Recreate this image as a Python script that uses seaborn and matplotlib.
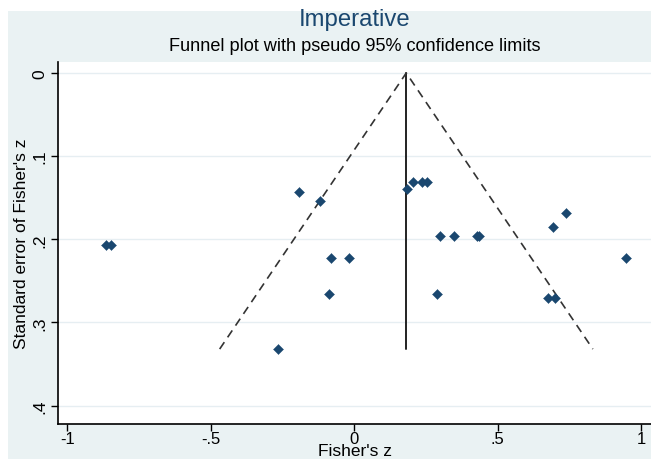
import matplotlib
matplotlib.use("Agg")
import matplotlib.pyplot as plt
import seaborn as sns
import pandas as pd
from matplotlib.patches import Rectangle

# ---- data ----
fisher_z = [-0.866, -0.847, -0.192, -0.118, -0.081, -0.018, -0.088, -0.267,
            0.183, 0.204, 0.235, 0.254, 0.300, 0.349, 0.428, 0.435, 0.289,
            0.692, 0.738, 0.948, 0.676, 0.700]
se_z = [0.207, 0.207, 0.1435, 0.154, 0.222, 0.222, 0.266, 0.332,
        0.1395, 0.1315, 0.1315, 0.1315, 0.1957, 0.1957, 0.1957, 0.1957, 0.266,
        0.1848, 0.1687, 0.2225, 0.2705, 0.2705]
pooled_z = 0.1815
x_ticks = [-1, -0.5, 0, 0.5, 1]
x_ticklabels = ["-1", "-.5", "0", ".5", "1"]
y_ticks = [0, 0.1, 0.2, 0.3, 0.4]
y_ticklabels = ["0", ".1", ".2", ".3", ".4"]
title = "Imperative"
subtitle = "Funnel plot with pseudo 95% confidence limits"
xlabel = "Fisher's z"
ylabel = "Standard error of Fisher's z"

df = pd.DataFrame({"z": fisher_z, "se": se_z})

sns.set_theme(style="white")
plt.rcParams["font.family"] = ["Liberation Sans", "DejaVu Sans"]

W, H = 651, 460
fig = plt.figure(figsize=(W / 100, H / 100), dpi=100)
fig.patch.set_facecolor("white")
bg = "#EAF2F3"
fig.patches.append(Rectangle((8 / W, 0), 1 - 8 / W, 1 - 12 / H,
                             transform=fig.transFigure, facecolor=bg,
                             edgecolor="none", zorder=-10))

ax = fig.add_axes([58 / W, 1 - 424.5 / H, 1 - 58 / W, (424.5 - 63) / H])
ax.set_facecolor("white")

# grid lines
for yt in y_ticks:
    ax.axhline(yt, color="#E6EEF2", lw=1.0, zorder=0)

# funnel
max_se = max(se_z)
ax.plot([pooled_z, pooled_z], [0, max_se], color="#222222", lw=1.4, zorder=2)
ax.plot([pooled_z - 1.96 * max_se, pooled_z, pooled_z + 1.96 * max_se],
        [max_se, 0, max_se], color="#333333", lw=1.2,
        linestyle=(0, (5, 3.5)), zorder=2)

sns.scatterplot(data=df, x="z", y="se", ax=ax, marker="D", s=26,
                color="#1A476F", edgecolor="#1A476F", linewidth=0.3, zorder=3)

ax.set_xlim(-1.033, 1.035)
ax.set_ylim(0.4215, -0.0132)

ax.set_xticks(x_ticks)
ax.set_xticklabels(x_ticklabels, fontsize=12)
ax.set_yticks(y_ticks)
ax.set_yticklabels(y_ticklabels, fontsize=12.5, rotation=90, va="center")
ax.tick_params(axis="both", direction="out", length=5, width=1.0,
               color="black", labelcolor="black")
ax.tick_params(axis="x", bottom=True, pad=0.5)
ax.tick_params(axis="y", left=True, pad=3)

for s in ["top", "right"]:
    ax.spines[s].set_visible(False)
for s in ["left", "bottom"]:
    ax.spines[s].set_color("black")
    ax.spines[s].set_linewidth(1.2)

ax.set_xlabel("")
ax.set_ylabel(ylabel, fontsize=12.5, labelpad=2, color="black")
cx = (58 + W) / 2 / W
fig.text(cx, 1 - 459.5 / H, xlabel, ha="center", va="bottom", fontsize=12.5,
         color="black")

fig.text(cx, 1 - 20 / H, title, ha="center", va="center", fontsize=17.2,
         color="#1A476F")
fig.text(cx, 1 - 46.5 / H, subtitle, ha="center", va="center", fontsize=13.1,
         color="black")

fig.savefig("out.png", dpi=100, facecolor=fig.get_facecolor())
